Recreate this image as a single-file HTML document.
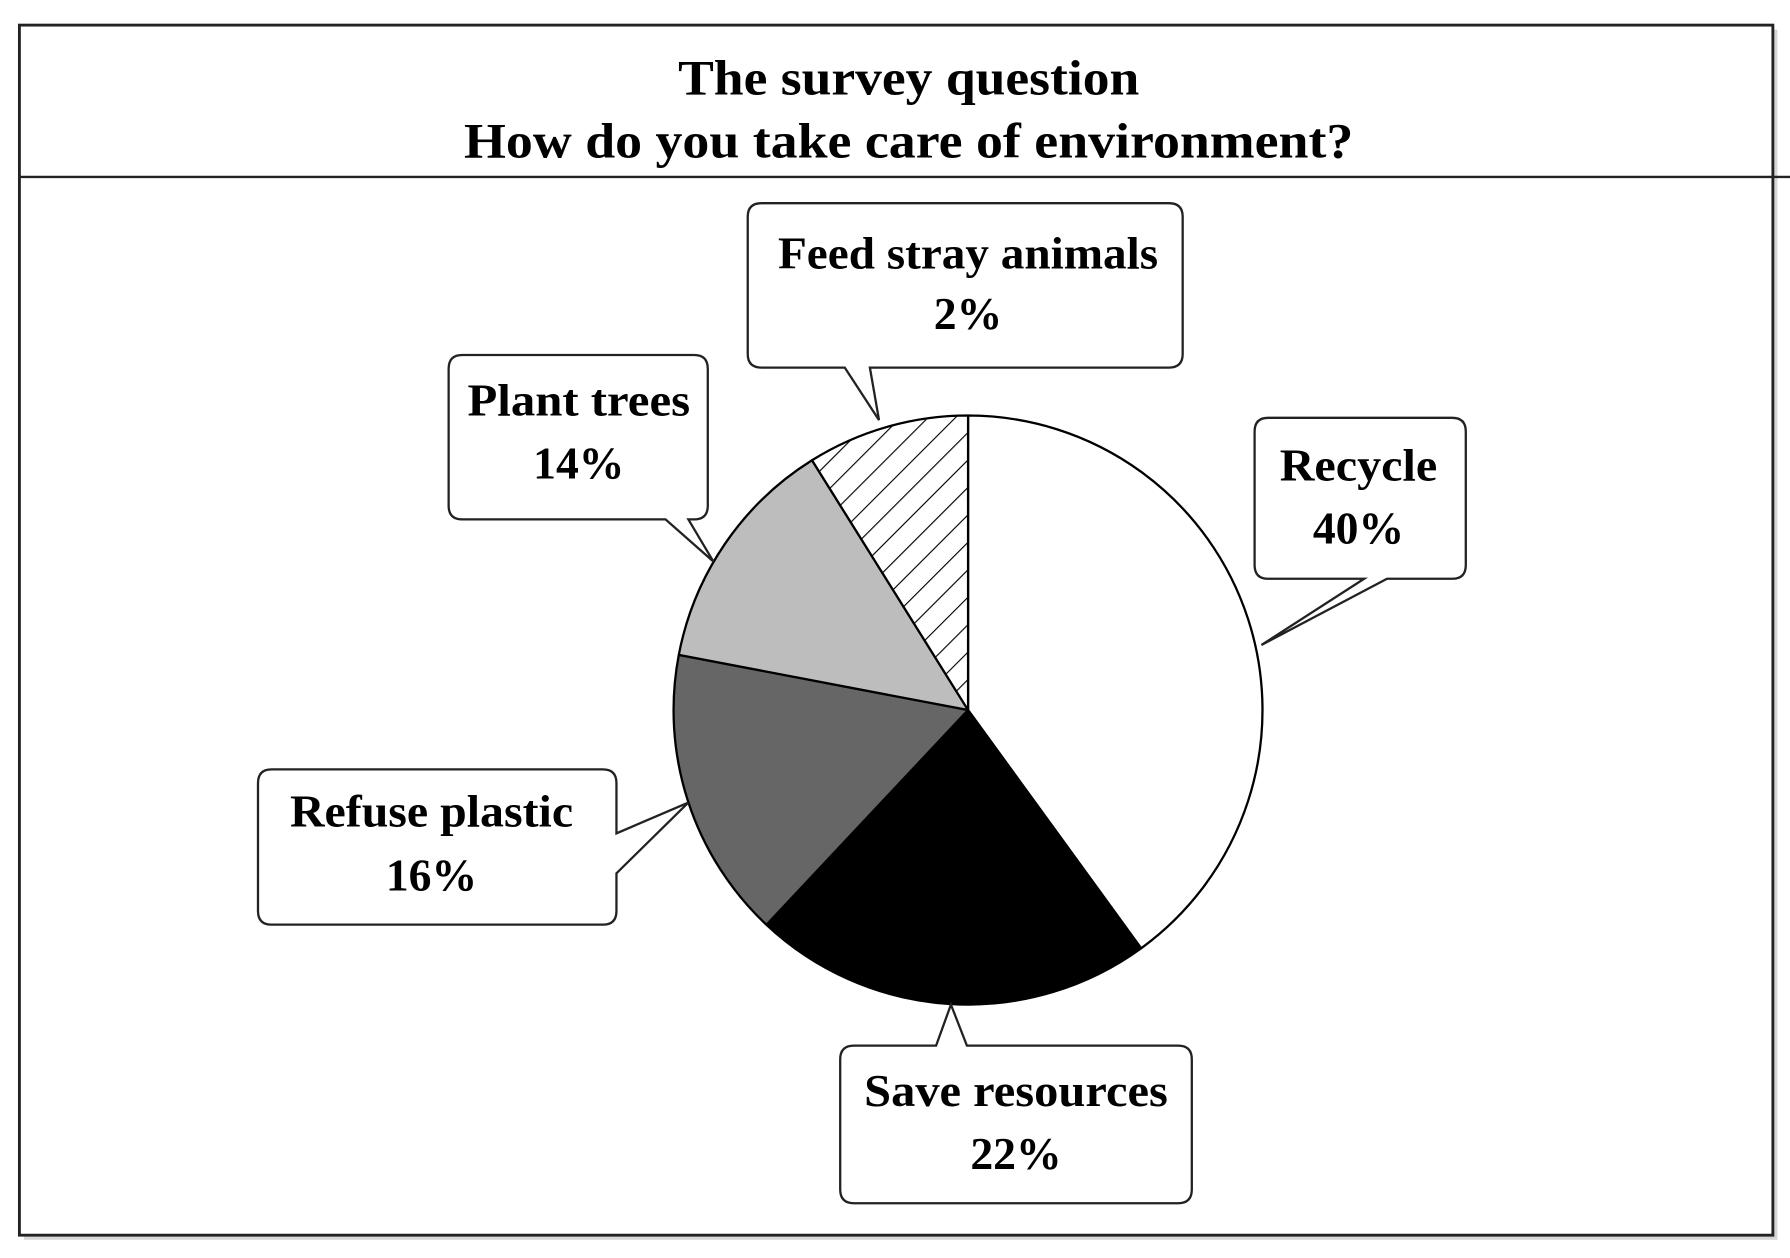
<!DOCTYPE html>
<html><head><meta charset="utf-8"><style>
html,body{margin:0;padding:0;background:#fff;}
svg{display:block;}
text{font-family:"Liberation Serif",serif;font-weight:bold;fill:#000;}
</style></head><body>
<svg width="1790" height="1258" viewBox="0 0 1568 1102" preserveAspectRatio="none" xmlns="http://www.w3.org/2000/svg">
<defs>
<pattern id="h" width="17" height="17" patternUnits="userSpaceOnUse" patternTransform="rotate(45)">
<rect width="17" height="17" fill="#fff"/>
<line x1="0" y1="0" x2="0" y2="17" stroke="#000" stroke-width="2"/>
</pattern>
</defs>
<rect x="0" y="0" width="1568" height="1102" fill="#fff"/>
<rect x="21" y="26" width="1536" height="1060" fill="#bbb" opacity="0.6"/>
<rect x="17" y="22" width="1536" height="1060" fill="#fff" stroke="#222" stroke-width="2.5"/>
<line x1="17" y1="155" x2="1568" y2="155" stroke="#222" stroke-width="2"/>
<text x="796" y="83" font-size="44" text-anchor="middle" textLength="404" lengthAdjust="spacingAndGlyphs">The survey question</text>
<text x="796" y="138" font-size="44" text-anchor="middle" textLength="779" lengthAdjust="spacingAndGlyphs">How do you take care of environment?</text>

<g stroke="#000" stroke-width="2" stroke-linejoin="round">
<path d="M848,622 L848,364 A258,258 0 0 1 999.6,830.7 Z" fill="#fff"/>
<path d="M848,622 L999.6,830.7 A258,258 0 0 1 671.4,810.1 Z" fill="#000"/>
<path d="M848,622 L671.4,810.1 A258,258 0 0 1 594.6,573.7 Z" fill="#666"/>
<path d="M848,622 L594.6,573.7 A258,258 0 0 1 711.3,403.2 Z" fill="#bdbdbd"/>
<path d="M848,622 L711.3,403.2 A258,258 0 0 1 848,364 Z" fill="url(#h)"/>
</g>

<g fill="#fff" stroke="#222" stroke-width="2">
<path d="M667,178 H1024 Q1036,178 1036,190 V310 Q1036,322 1024,322 H762 L770,368 L740,322 H667 Q655,322 655,310 V190 Q655,178 667,178 Z"/>
<path d="M405,311 H608 Q620,311 620,323 V443 Q620,455 608,455 H603 L625,492 L583,455 H405 Q393,455 393,443 V323 Q393,311 405,311 Z"/>
<path d="M1111,366 H1272 Q1284,366 1284,378 V495 Q1284,507 1272,507 H1215 L1105,565 L1195,507 H1111 Q1099,507 1099,495 V378 Q1099,366 1111,366 Z"/>
<path d="M238,674 H528 Q540,674 540,686 V730 L603,703 L540,765 V798 Q540,810 528,810 H238 Q226,810 226,798 V686 Q226,674 238,674 Z"/>
<path d="M748,916 H820 L833,880 L847,916 H1032 Q1044,916 1044,928 V1042 Q1044,1054 1032,1054 H748 Q736,1054 736,1042 V928 Q736,916 748,916 Z"/>
</g>

<g font-size="40" text-anchor="middle">
<text x="848" y="235" textLength="333" lengthAdjust="spacingAndGlyphs">Feed stray animals</text>
<text x="848" y="288">2%</text>
<text x="507" y="364" textLength="195" lengthAdjust="spacingAndGlyphs">Plant trees</text>
<text x="507" y="419">14%</text>
<text x="1190" y="421" textLength="138" lengthAdjust="spacingAndGlyphs">Recycle</text>
<text x="1190" y="476">40%</text>
<text x="378" y="724" textLength="248" lengthAdjust="spacingAndGlyphs">Refuse plastic</text>
<text x="378" y="780">16%</text>
<text x="890" y="969" textLength="266" lengthAdjust="spacingAndGlyphs">Save resources</text>
<text x="890" y="1024">22%</text>
</g>
</svg>
</body></html>
